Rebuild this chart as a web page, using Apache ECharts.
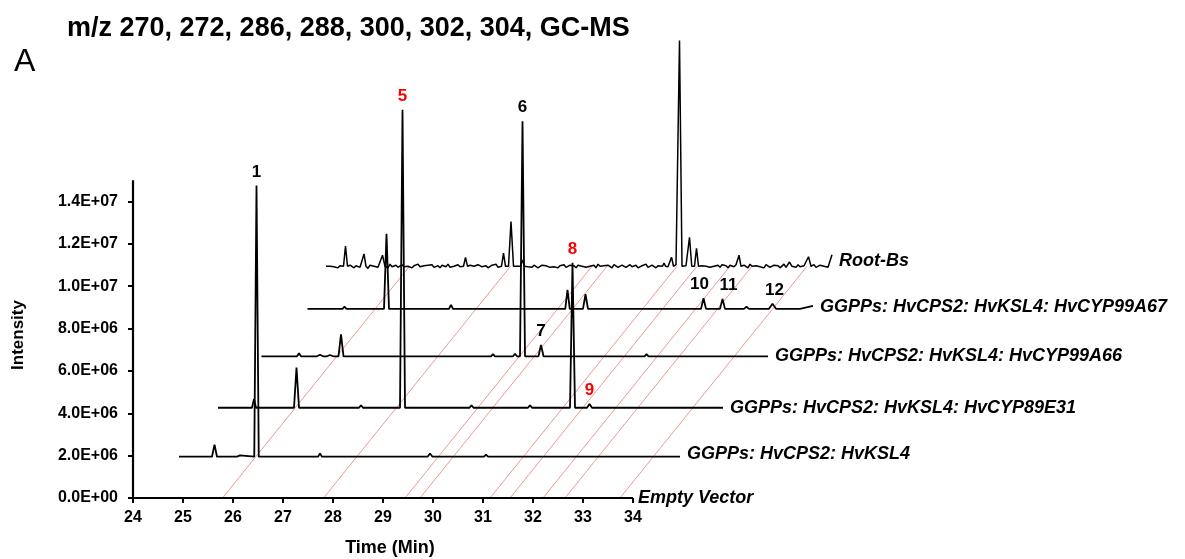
<!DOCTYPE html>
<html>
<head>
<meta charset="utf-8">
<script src="https://cdn.jsdelivr.net/npm/echarts@6/dist/echarts.min.js"></script>
<style>html,body{margin:0;padding:0;background:#fff}#c{width:1185px;height:559px}</style>
</head>
<body>
<div id="c"></div>
<script>
// ---- data ----
const xTicks = [24, 25, 26, 27, 28, 29, 30, 31, 32, 33, 34];
const yTicks = [0, 2e6, 4e6, 6e6, 8e6, 1e7, 1.2e7, 1.4e7];
const emptyVectorName = 'Empty Vector';
const emptyVectorRange = [24, 34];
const traceNames = [
  'GGPPs: HvCPS2: HvKSL4',
  'GGPPs: HvCPS2: HvKSL4: HvCYP89E31',
  'GGPPs: HvCPS2: HvKSL4: HvCYP99A66',
  'GGPPs: HvCPS2: HvKSL4: HvCYP99A67',
  'Root-Bs'
];
// per-trace stacking offsets (time shift in min, baseline intensity)
const traceShiftX = [0.70, 1.48, 2.42, 3.25, 3.74];
const traceBase = [1.95e6, 4.26e6, 6.69e6, 8.93e6, 10.94e6];
const traceRange = [[24.22, 34.24], [24.22, 34.32], [24.15, 34.28], [24.24, 34.35], [24.12, 34.24]];
const traceEndLift = [0, 0, 0, 0.14, 0.54]; // x1e6
// peaks: [retention time, height x1e6, half width min]
const peaksKSL4 = [[24.93,0.57,0.05],[25.34,0.07,0.04],[25.44,0.06,0.04],[25.77,12.8,0.045],[27.04,0.15,0.04],[27.84,0.08,0.04],[28.27,0.07,0.04],[29.24,0.15,0.05],[30.36,0.10,0.04]];
const peaks89E31 = [[24.94,0.42,0.04],[25.38,0.08,0.04],[25.79,1.90,0.05],[27.08,0.12,0.04],[27.91,14.07,0.05],[29.29,0.12,0.04],[30.46,0.12,0.04],[31.31,6.84,0.05],[31.65,0.18,0.05]];
const peaks99A66 = [[24.90,0.14,0.04],[25.32,0.07,0.06],[25.52,0.06,0.06],[25.74,1.04,0.05],[28.35,0.05,0.04],[28.78,0.10,0.04],[29.22,0.12,0.04],[29.37,11.10,0.05],[29.74,0.54,0.05],[31.85,0.10,0.04]];
const peaks99A67 = [[24.98,0.10,0.04],[25.82,3.54,0.05],[27.11,0.19,0.04],[27.92,0.07,0.04],[28.45,0.05,0.04],[29.44,0.90,0.045],[29.80,0.69,0.05],[32.16,0.50,0.05],[32.54,0.47,0.05],[33.02,0.10,0.05],[33.54,0.24,0.07],[34.05,0.05,0.04]];
const peaksRoot = [[24.51,0.95,0.04],[24.88,0.58,0.04],[25.25,0.52,0.05],[26.91,0.42,0.04],[27.67,0.62,0.04],[27.82,2.11,0.05],[28.05,0.30,0.04],[30.88,0.15,0.03],[31.03,0.43,0.04],[31.19,10.66,0.05],[31.39,1.37,0.045],[31.53,0.85,0.04],[32.38,0.52,0.04],[33.39,0.20,0.05],[33.77,0.45,0.05]];
const tracePeaks = [peaksKSL4, peaks89E31, peaks99A66, peaks99A67, peaksRoot];
// Root-Bs baseline wiggle, one value per 0.04 min from its start (x2.5e4)
const rootNoise = [
  1,-2,0,3,-1,2,-3,1,0,4,-2,-1,2,0,-3,1,3,-2,0,2,-1,-4,2,1,0,3,-2,1,-1,2,0,-3,4,-1,0,2,-2,1,3,-1,-2,0,2,-3,1,0,4,-1,-2,1,
  0,2,-1,3,-2,0,1,-3,2,0,-1,4,-2,1,0,-2,3,-1,0,2,-3,1,2,-1,0,-2,3,0,-1,2,1,-3,0,2,-1,4,-2,0,1,-1,3,-2,0,-1,2,0,-3,1,2,-1,
  3,-1,0,-2,2,1,-3,0,2,-1,1,4,-2,0,-1,2,-3,1,0,3,-2,-1,2,0,1,-3,2,-1,0,3,-2,1,0,-1,2,-3,4,0,-2,1,-1,2,0,-3,3,1,-2,0,2,-1,
  -2,1,3,-1,0,2,-3,0,1,-1,4,-2,0,2,-1,-3,1,0,3,-2,1,-1,0,2,-2,3,0,-1,-3,2,1,0,-2,4,-1,0,2,-3,1,-1,0,3,-2,1,0,-1,2,-2,3,0,
  1,-3,2,0,-1,3,-2,1,0,2,-1,-3,4,0,-2,1,2,-1,0,-3,3,1,-2,0,2,-1,1,-3,0,4,-2,1,-1,2,0,-2,3,-1,0,1,-3,2,0,-1,3,-2,1,2,-1,0,3,-2,1,4,2
];
const traceNoise = [null, null, null, null, rootNoise];
// red alignment guides: start time on the axis, they run up to the Root-Bs baseline
const guideStart = [25.79, 27.81, 29.44, 29.74, 31.14, 31.54, 32.20, 32.64, 33.74];
// peak numbers: [label, trace index, retention time, colour]
const peakLabels = [['1',0,25.77,'#000'],['5',1,27.91,'#ff0000'],['6',2,29.37,'#000'],['7',2,29.74,'#000'],['8',1,31.31,'#ff0000'],['9',1,31.65,'#ff0000'],['10',3,32.16,'#000'],['11',3,32.54,'#000'],['12',3,33.54,'#000']];
const yAxisTop = 1.5e7;

// ---- build ----
const FONT = 'Liberation Sans, Arial, sans-serif';
const NOISE_STEP = 0.04, NOISE_UNIT = 2.5e4;
const labelNudge = {'10': [-4, 0], '11': [6, 0], '12': [2, 0]};
const endLabelNudge = [[0, -3], [0, 0], [0, 0], [0, 1], [0, 6]];
function buildTrace(i) {
  const [t0, t1] = traceRange[i];
  const peaks = tracePeaks[i];
  const noise = traceNoise[i];
  let pts = [];
  pts.push([t0, 0]);
  peaks.forEach(p => {
    pts.push([p[0] - p[2], 0]);
    pts.push([p[0], p[1] * 1e6]);
    pts.push([p[0] + p[2], 0]);
  });
  if (noise) {
    noise.forEach((v, k) => {
      const t = t0 + k * NOISE_STEP;
      if (t <= t0 || t >= t1 - 0.01) return;
      const inside = peaks.some(p => t >= p[0] - p[2] - 0.01 && t <= p[0] + p[2] + 0.01);
      if (!inside) pts.push([t, v * NOISE_UNIT]);
    });
  }
  pts.push([t1, traceEndLift[i] * 1e6]);
  pts.sort((a, b) => a[0] - b[0]);
  return pts.map(p => [p[0] + traceShiftX[i], p[1] + traceBase[i]]);
}
function fmtSci(v) {
  if (v === 0) return '0.0E+00';
  const e = Math.floor(Math.log10(v) + 1e-9);
  const m = v / Math.pow(10, e);
  return m.toFixed(1) + 'E+' + String(e).padStart(2, '0');
}
const endLabelStyle = {show: true, distance: 7, fontStyle: 'italic', fontWeight: 'bold', fontSize: 18, color: '#000', fontFamily: FONT};

const series = [];
guideStart.forEach((t, k) => {
  series.push({
    type: 'line', name: 'guide' + k, silent: true, symbol: 'none', animation: false, z: 1,
    data: [[t, 0], [t + traceShiftX[4], traceBase[4]]],
    lineStyle: {color: 'rgba(225,70,70,0.7)', width: 0.8}
  });
});
traceNames.forEach((name, i) => {
  series.push({
    type: 'line', name: name, symbol: 'none', animation: false, z: 3,
    data: buildTrace(i),
    lineStyle: {color: '#000', width: i === 4 ? 1.5 : 1.8},
    endLabel: Object.assign({formatter: name, offset: endLabelNudge[i]}, endLabelStyle)
  });
});
series.push({
  type: 'line', name: emptyVectorName, symbol: 'none', animation: false, z: 4, clip: false,
  data: [[emptyVectorRange[0], 0], [emptyVectorRange[1], 0]],
  lineStyle: {color: '#000', width: 2.2},
  endLabel: Object.assign({formatter: emptyVectorName}, endLabelStyle, {distance: 5})
});
series.push({
  type: 'line', name: 'yaxis', symbol: 'none', animation: false, z: 4, clip: false,
  data: [[xTicks[0], 0], [xTicks[0], yAxisTop]],
  lineStyle: {color: '#000', width: 2.2}
});
series.push({
  type: 'scatter', name: 'peakLabels', symbolSize: 0, animation: false, z: 5, silent: true,
  itemStyle: {opacity: 1},
  data: peakLabels.map(l => {
    const p = tracePeaks[l[1]].find(q => Math.abs(q[0] - l[2]) < 1e-6);
    return {
      name: l[0],
      value: [l[2] + traceShiftX[l[1]], p[1] * 1e6 + traceBase[l[1]]],
      label: {show: true, position: 'top', distance: 5, offset: labelNudge[l[0]] || [0, 0], formatter: l[0], color: l[3], opacity: 1, fontWeight: 'bold', fontSize: 17, fontFamily: FONT}
    };
  })
});

const chart = echarts.init(document.getElementById('c'), null, {renderer: 'canvas'});
chart.setOption({
  animation: false,
  backgroundColor: '#fff',
  grid: {left: 133, right: 252, top: 32, bottom: 61, containLabel: false},
  xAxis: {
    type: 'value', min: 24, max: 40,
    axisLine: {show: false}, splitLine: {show: false},
    axisTick: {show: true, customValues: xTicks, length: 5, lineStyle: {color: '#000', width: 2}},
    axisLabel: {show: true, customValues: xTicks, margin: 12, fontSize: 16, fontWeight: 'bold', color: '#000', fontFamily: FONT}
  },
  yAxis: {
    type: 'value', min: 0, max: 2.2e7,
    axisLine: {show: false}, splitLine: {show: false},
    axisTick: {show: true, customValues: yTicks, length: 5, lineStyle: {color: '#000', width: 2}},
    axisLabel: {show: true, customValues: yTicks, margin: 15, fontSize: 16, fontWeight: 'bold', color: '#000', fontFamily: FONT, formatter: fmtSci}
  },
  graphic: [
    {type: 'text', x: 67, y: 29, style: {text: 'm/z 270, 272, 286, 288, 300, 302, 304, GC-MS', font: 'bold 27px ' + FONT, fill: '#000', verticalAlign: 'middle'}},
    {type: 'text', x: 14, y: 62, style: {text: 'A', font: '32px ' + FONT, fill: '#000', verticalAlign: 'middle'}},
    {type: 'text', x: 18, y: 335, rotation: Math.PI / 2, style: {text: 'Intensity', font: 'bold 17px ' + FONT, fill: '#000', align: 'center', verticalAlign: 'middle'}},
    {type: 'text', x: 390, y: 548, style: {text: 'Time (Min)', font: 'bold 18px ' + FONT, fill: '#000', align: 'center', verticalAlign: 'middle'}}
  ],
  series: series
});
</script>
</body>
</html>
